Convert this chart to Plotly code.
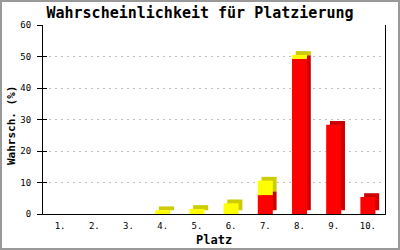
import plotly.graph_objects as go

platz = ["1.", "2.", "3.", "4.", "5.", "6.", "7.", "8.", "9.", "10."]
rot = [0, 0, 0, 0, 0, 0, 6.0, 49.2, 28.3, 5.4]
gelb = [0, 0, 0, 1.2, 1.6, 3.4, 4.6, 1.3, 0, 0]
y_ticks = [0, 10, 20, 30, 40, 50, 60]

W = 0.44          # bar width (category units)
DX = 0.11         # 3D depth shift in x (category units)
DY = 1.2          # 3D depth shift in y (data units)

fig = go.Figure()
# depth (darker) faces behind
fig.add_trace(go.Bar(x=platz, y=rot, base=[DY] * len(rot), width=W, offset=-W / 2 + DX,
                     marker=dict(color="#cc0000", line=dict(width=0)), hoverinfo="skip"))
fig.add_trace(go.Bar(x=platz, y=gelb, base=[r + DY for r in rot], width=W, offset=-W / 2 + DX,
                     marker=dict(color="#cccc00", line=dict(width=0)), hoverinfo="skip"))
# front faces
fig.add_trace(go.Bar(x=platz, y=rot, base=[0] * len(rot), width=W, offset=-W / 2,
                     marker=dict(color="#ff0000", line=dict(width=0)), hoverinfo="skip"))
fig.add_trace(go.Bar(x=platz, y=gelb, base=rot, width=W, offset=-W / 2,
                     marker=dict(color="#ffff00", line=dict(width=0)), hoverinfo="skip"))

L, R, T, B = 43, 385, 25, 214
pw, ph = R - L, B - T

mono = "DejaVu Sans Mono"
fig.update_layout(
    width=400, height=250,
    margin=dict(l=L, r=400 - R, t=T, b=250 - B, pad=0),
    paper_bgcolor="white", plot_bgcolor="white",
    barmode="overlay", showlegend=False,
    title=dict(text="<b>Wahrscheinlichkeit für Platzierung</b>", x=0.5, xref="container",
               y=1 - 13 / 250, yref="container", yanchor="middle", xanchor="center",
               font=dict(family=mono, size=15, color="black")),
    xaxis=dict(type="category", range=[-0.5, 9.5], showgrid=False, showline=True,
               linecolor="black", linewidth=1, ticks="", zeroline=False,
               tickfont=dict(family=mono, size=9, color="black"), ticklabelstandoff=3),
    yaxis=dict(range=[0, 60], tickvals=y_ticks, showgrid=True, gridcolor="#c0c0c0",
               griddash="2px,4px", gridwidth=1, showline=True, linecolor="black", linewidth=1,
               ticks="outside", ticklen=5, tickcolor="black", zeroline=False,
               tickfont=dict(family=mono, size=9, color="black"), ticklabelstandoff=4),
    yaxis2=dict(range=[0, 60], overlaying="y", side="left", tickvals=y_ticks, ticks="inside",
                ticklen=4, tickcolor="black", showticklabels=False, showgrid=False,
                showline=False, zeroline=False),
    yaxis3=dict(range=[0, 60], overlaying="y", side="right", showticklabels=False,
                ticks="", showgrid=False, showline=True, linecolor="black", linewidth=1,
                zeroline=False),
    annotations=[
        dict(text="<b>Platz</b>", x=0.5, xref="paper", y=-(240 - B) / ph, yref="paper",
             showarrow=False, xanchor="center", yanchor="middle",
             font=dict(family=mono, size=12, color="black")),
        dict(text="<b>Wahrsch. (%)</b>", x=(11 - L) / pw, xref="paper", y=(B - 126) / ph,
             yref="paper", showarrow=False, textangle=-90, xanchor="center", yanchor="middle",
             font=dict(family=mono, size=11, color="black")),
    ],
    shapes=[dict(type="rect", xref="paper", yref="paper",
                 x0=(1 - L) / pw, x1=(399 - L) / pw, y0=(B - 249) / ph, y1=(B - 1) / ph,
                 line=dict(color="#999999", width=2), fillcolor="rgba(0,0,0,0)", layer="above")],
)
# dummy traces to activate the extra axes
fig.add_trace(go.Scatter(x=[None], y=[None], yaxis="y2", showlegend=False, hoverinfo="skip"))
fig.add_trace(go.Scatter(x=[None], y=[None], yaxis="y3", showlegend=False, hoverinfo="skip"))

fig.write_html("out.html")
